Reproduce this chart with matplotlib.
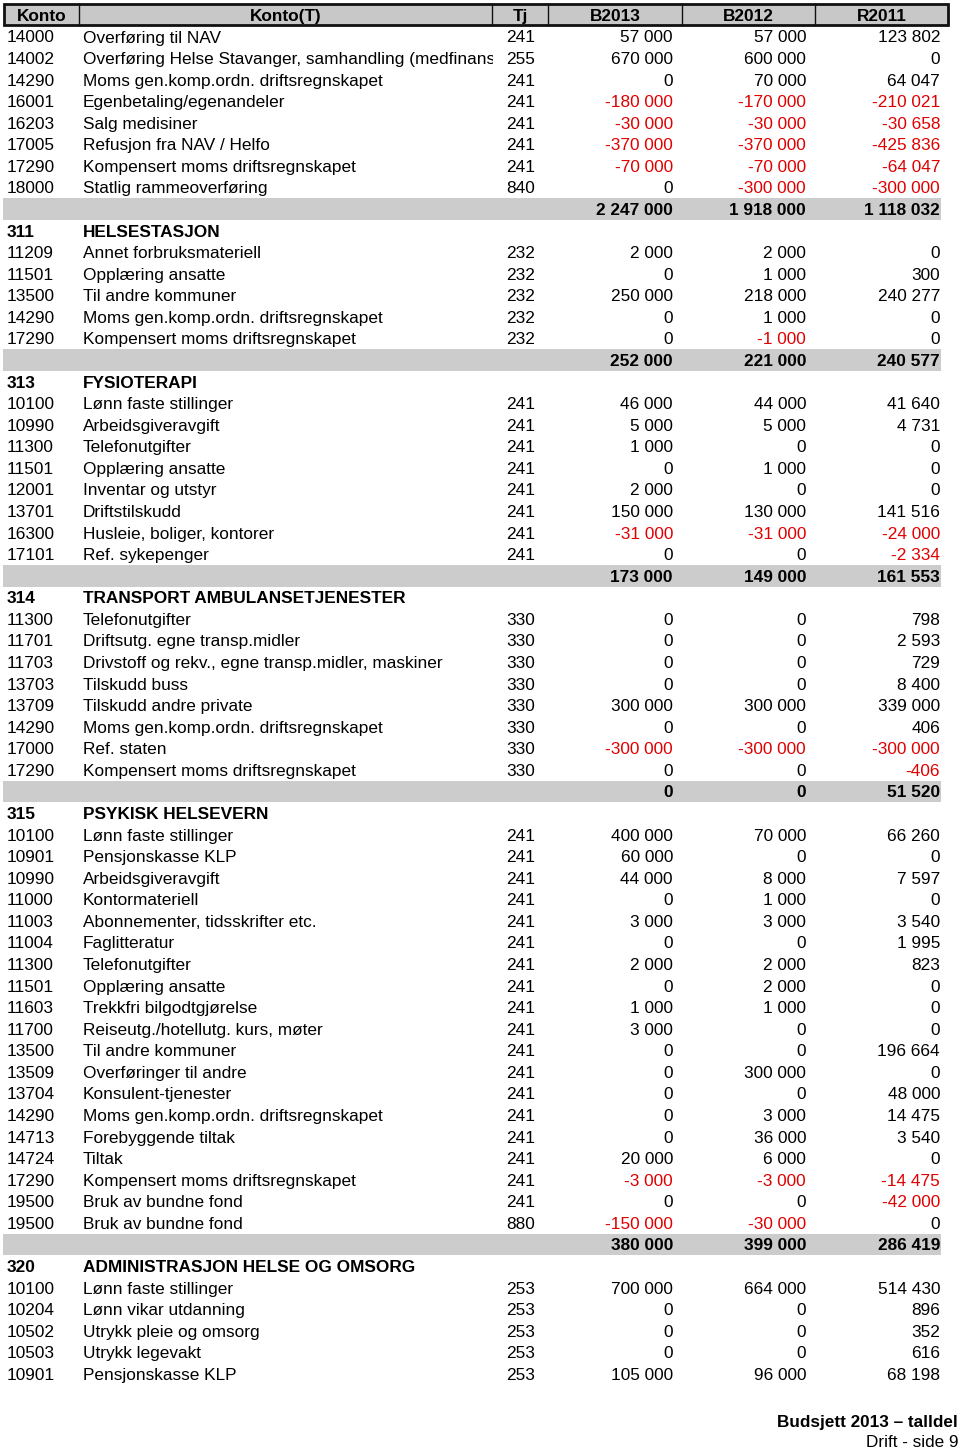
import matplotlib
matplotlib.use("Agg")
import matplotlib.pyplot as plt
from matplotlib.patches import Rectangle
from matplotlib.transforms import Bbox, TransformedBbox

plt.rcParams['font.family'] = ['Liberation Sans', 'DejaVu Sans']

# ---- data -----------------------------------------------------------------
# row kinds: 'd' = data row, 's' = section header, 't' = total row
row_kind = (['d'] * 8 + ['t'] +
            ['s'] + ['d'] * 5 + ['t'] +
            ['s'] + ['d'] * 8 + ['t'] +
            ['s'] + ['d'] * 8 + ['t'] +
            ['s'] + ['d'] * 19 + ['t'] +
            ['s'] + ['d'] * 5)

konto = ['14000', '14002', '14290', '16001', '16203', '17005', '17290', '18000', '',
         '311', '11209', '11501', '13500', '14290', '17290', '',
         '313', '10100', '10990', '11300', '11501', '12001', '13701', '16300', '17101', '',
         '314', '11300', '11701', '11703', '13703', '13709', '14290', '17000', '17290', '',
         '315', '10100', '10901', '10990', '11000', '11003', '11004', '11300', '11501', '11603',
         '11700', '13500', '13509', '13704', '14290', '14713', '14724', '17290', '19500', '19500', '',
         '320', '10100', '10204', '10502', '10503', '10901']

konto_t = ['Overføring til NAV',
           'Overføring Helse Stavanger, samhandling (medfinansiering)',
           'Moms gen.komp.ordn. driftsregnskapet',
           'Egenbetaling/egenandeler',
           'Salg medisiner',
           'Refusjon fra NAV / Helfo',
           'Kompensert moms driftsregnskapet',
           'Statlig rammeoverføring',
           '',
           'HELSESTASJON',
           'Annet forbruksmateriell',
           'Opplæring ansatte',
           'Til andre kommuner',
           'Moms gen.komp.ordn. driftsregnskapet',
           'Kompensert moms driftsregnskapet',
           '',
           'FYSIOTERAPI',
           'Lønn faste stillinger',
           'Arbeidsgiveravgift',
           'Telefonutgifter',
           'Opplæring ansatte',
           'Inventar og utstyr',
           'Driftstilskudd',
           'Husleie, boliger, kontorer',
           'Ref. sykepenger',
           '',
           'TRANSPORT AMBULANSETJENESTER',
           'Telefonutgifter',
           'Driftsutg. egne transp.midler',
           'Drivstoff og rekv., egne transp.midler, maskiner',
           'Tilskudd buss',
           'Tilskudd andre private',
           'Moms gen.komp.ordn. driftsregnskapet',
           'Ref. staten',
           'Kompensert moms driftsregnskapet',
           '',
           'PSYKISK HELSEVERN',
           'Lønn faste stillinger',
           'Pensjonskasse KLP',
           'Arbeidsgiveravgift',
           'Kontormateriell',
           'Abonnementer, tidsskrifter etc.',
           'Faglitteratur',
           'Telefonutgifter',
           'Opplæring ansatte',
           'Trekkfri bilgodtgjørelse',
           'Reiseutg./hotellutg. kurs, møter',
           'Til andre kommuner',
           'Overføringer til andre',
           'Konsulent-tjenester',
           'Moms gen.komp.ordn. driftsregnskapet',
           'Forebyggende tiltak',
           'Tiltak',
           'Kompensert moms driftsregnskapet',
           'Bruk av bundne fond',
           'Bruk av bundne fond',
           '',
           'ADMINISTRASJON HELSE OG OMSORG',
           'Lønn faste stillinger',
           'Lønn vikar utdanning',
           'Utrykk pleie og omsorg',
           'Utrykk legevakt',
           'Pensjonskasse KLP']

tj = ['241', '255', '241', '241', '241', '241', '241', '840', '',
      '', '232', '232', '232', '232', '232', '',
      '', '241', '241', '241', '241', '241', '241', '241', '241', '',
      '', '330', '330', '330', '330', '330', '330', '330', '330', '',
      '', '241', '241', '241', '241', '241', '241', '241', '241', '241',
      '241', '241', '241', '241', '241', '241', '241', '241', '241', '880', '',
      '', '253', '253', '253', '253', '253']

b2013 = [57000, 670000, 0, -180000, -30000, -370000, -70000, 0, 2247000,
         None, 2000, 0, 250000, 0, 0, 252000,
         None, 46000, 5000, 1000, 0, 2000, 150000, -31000, 0, 173000,
         None, 0, 0, 0, 0, 300000, 0, -300000, 0, 0,
         None, 400000, 60000, 44000, 0, 3000, 0, 2000, 0, 1000,
         3000, 0, 0, 0, 0, 0, 20000, -3000, 0, -150000, 380000,
         None, 700000, 0, 0, 0, 105000]

b2012 = [57000, 600000, 70000, -170000, -30000, -370000, -70000, -300000, 1918000,
         None, 2000, 1000, 218000, 1000, -1000, 221000,
         None, 44000, 5000, 0, 1000, 0, 130000, -31000, 0, 149000,
         None, 0, 0, 0, 0, 300000, 0, -300000, 0, 0,
         None, 70000, 0, 8000, 1000, 3000, 0, 2000, 2000, 1000,
         0, 0, 300000, 0, 3000, 36000, 6000, -3000, 0, -30000, 399000,
         None, 664000, 0, 0, 0, 96000]

r2011 = [123802, 0, 64047, -210021, -30658, -425836, -64047, -300000, 1118032,
         None, 0, 300, 240277, 0, 0, 240577,
         None, 41640, 4731, 0, 0, 0, 141516, -24000, -2334, 161553,
         None, 798, 2593, 729, 8400, 339000, 406, -300000, -406, 51520,
         None, 66260, 0, 7597, 0, 3540, 1995, 823, 0, 0,
         0, 196664, 0, 48000, 14475, 3540, 0, -14475, -42000, 0, 286419,
         None, 514430, 896, 352, 616, 68198]

headers = ['Konto', 'Konto(T)', 'Tj', 'B2013', 'B2012', 'R2011']
footer_title = 'Budsjett 2013 – talldel'
footer_page = 'Drift - side 9'

# ---- layout ---------------------------------------------------------------
W, H = 960, 1449
col_edges = [4, 79, 492, 548, 682, 815, 948]
x_konto, x_name, x_tj = 7, 83, 506
x_vals = [673, 806, 940]
row0, row_h = 36.5, 21.57
fs = 12.4
red = '#e00000'
gray_band = '#cccccc'
gray_head = '#c8c8c8'


def fmt(v):
    s = f"{abs(v):,}".replace(',', ' ')
    return ('-' if v < 0 else '') + s


fig = plt.figure(figsize=(W / 100, H / 100), dpi=100)
ax = fig.add_axes([0, 0, 1, 1])
ax.set_xlim(0, W)
ax.set_ylim(H, 0)
ax.axis('off')

# header
ax.add_patch(Rectangle((col_edges[0], 4), col_edges[-1] - col_edges[0], 21,
                       facecolor=gray_head, edgecolor='#111111', lw=2.0, zorder=2))
for xe in col_edges[1:-1]:
    ax.plot([xe, xe], [4, 25], color='#111111', lw=1.0, zorder=3)
for i, h in enumerate(headers):
    xc = (col_edges[i] + col_edges[i + 1]) / 2
    ax.text(xc, 20.9, h, ha='center', va='baseline', fontsize=fs,
            fontweight='bold', color='black', zorder=4)

clip = TransformedBbox(Bbox([[col_edges[1], 0], [col_edges[2] + 1, H]]), ax.transData)

for i, kind in enumerate(row_kind):
    yc = row0 + i * row_h
    yb = yc + 6.0
    weight = 'bold' if kind in ('s', 't') else 'normal'
    if kind == 't':
        ax.add_patch(Rectangle((3, yc - row_h / 2), 941 - 3, row_h,
                               facecolor=gray_band, edgecolor='none', zorder=1))
    if konto[i]:
        ax.text(x_konto, yb, konto[i], ha='left', va='baseline', fontsize=fs,
                fontweight=weight, zorder=4)
    if konto_t[i]:
        t = ax.text(x_name, yb, konto_t[i], ha='left', va='baseline', fontsize=fs,
                    fontweight=weight, zorder=4)
        t.set_clip_box(clip)
        t.set_clip_on(True)
    if tj[i]:
        ax.text(x_tj, yb, tj[i], ha='left', va='baseline', fontsize=fs,
                fontweight=weight, zorder=4)
    for xv, series in zip(x_vals, (b2013, b2012, r2011)):
        v = series[i]
        if v is None:
            continue
        ax.text(xv, yb, fmt(v), ha='right', va='baseline', fontsize=fs,
                fontweight=weight, color=(red if v < 0 else 'black'), zorder=4)

# footer
ax.text(958, 1427, footer_title, ha='right', va='baseline', fontsize=12.3,
        fontweight='bold', zorder=4)
ax.text(958, 1447, footer_page, ha='right', va='baseline', fontsize=12.3, zorder=4)

fig.savefig('out.png', dpi=100)
